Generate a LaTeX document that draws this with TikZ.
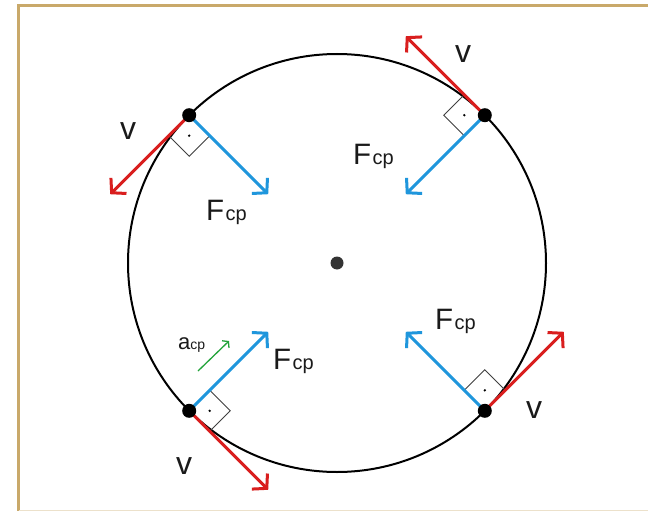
\documentclass[tikz,border=0pt]{standalone}
\usepackage{fontspec}
\setmainfont{Liberation Sans}
\usetikzlibrary{arrows.meta,calc}
\definecolor{vred}{HTML}{D91E1E}
\definecolor{fblue}{HTML}{1F96DC}
\definecolor{agreen}{HTML}{22A33A}
\definecolor{framecol}{HTML}{C9A96A}
\definecolor{txt}{HTML}{1A1A1A}
\newcommand\myFcp{{\fontsize{29.5}{29.5}\selectfont F}\kern1.5pt{\fontsize{20}{20}\selectfont cp}}
\newcommand\myacp{{\fontsize{22}{22}\selectfont a}{\fontsize{14}{14}\selectfont cp}}
\begin{document}
\begin{tikzpicture}[x=1pt,y=-1pt,
  vec/.style={line width=3pt,-{Straight Barb[length=10pt,width=22pt]}},
  vvec/.style={vec,vred},
  fvec/.style={vec,fblue},
  rsq/.style={draw=black!75,line width=0.9pt},
  bigdot/.style={circle,fill=black,inner sep=0pt,minimum size=14pt},
  smalldot/.style={circle,fill=black,inner sep=0pt,minimum size=2.6pt},
  vlab/.style={text=txt,inner sep=0pt,font=\fontsize{32}{32}\selectfont},
  flab/.style={text=txt,inner sep=0pt,anchor=base west}]
\useasboundingbox (0,0) rectangle (648,511);
\fill[white] (0,0) rectangle (648,511);
\draw[framecol,line width=2.5pt] (18.5,511) -- (18.5,5.5) -- (648,5.5);
\draw[framecol!35,line width=1pt] (18.5,510) -- (648,510);

\coordinate (O) at (337,263);
\draw[line width=2pt] (O) circle[radius=209pt];

\coordinate (P1) at ($(O)+(-147.8,-147.8)$);
\coordinate (P2) at ($(O)+(147.8,-147.8)$);
\coordinate (P3) at ($(O)+(-147.8,147.8)$);
\coordinate (P4) at ($(O)+(147.8,147.8)$);

\coordinate (V1) at ($(P1)+(-79,79)$);
\coordinate (F1) at ($(P1)+(79,79)$);
\coordinate (V2) at ($(P2)+(-79,-79)$);
\coordinate (F2) at ($(P2)+(-79,79)$);
\coordinate (V3) at ($(P3)+(79,79)$);
\coordinate (F3) at ($(P3)+(79,-79)$);
\coordinate (V4) at ($(P4)+(79,-79)$);
\coordinate (F4) at ($(P4)+(-79,-79)$);

% right-angle marks
\draw[rsq] ($(P1)+(-20.5,20.5)$) -- ($(P1)+(0,41)$) -- ($(P1)+(20.5,20.5)$);
\node[smalldot] (s1) at ($(P1)+(0,20.5)$) {};
\draw[rsq] ($(P2)+(-20.5,-20.5)$) -- ($(P2)+(-41,0)$) -- ($(P2)+(-20.5,20.5)$);
\node[smalldot] (s2) at ($(P2)+(-20.5,0)$) {};
\draw[rsq] ($(P3)+(20.5,20.5)$) -- ($(P3)+(41,0)$) -- ($(P3)+(20.5,-20.5)$);
\node[smalldot] (s3) at ($(P3)+(20.5,0)$) {};
\draw[rsq] ($(P4)+(20.5,-20.5)$) -- ($(P4)+(0,-41)$) -- ($(P4)+(-20.5,-20.5)$);
\node[smalldot] (s4) at ($(P4)+(0,-20.5)$) {};

% vectors
\draw[vvec] (P1) -- (V1);
\draw[fvec] (P1) -- (F1);
\draw[vvec] (P2) -- (V2);
\draw[fvec] (P2) -- (F2);
\draw[vvec] (P3) -- (V3);
\draw[fvec] (P3) -- (F3);
\draw[vvec] (P4) -- (V4);
\draw[fvec] (P4) -- (F4);

% dots
\node[bigdot] (d1) at (P1) {};
\node[bigdot] (d2) at (P2) {};
\node[bigdot] (d3) at (P3) {};
\node[bigdot] (d4) at (P4) {};
\node[bigdot,fill=black!80,minimum size=13pt] (dc) at (O) {};

% acceleration
\coordinate (A0) at (198,371);
\coordinate (A1) at (229,341);
\draw[agreen,line width=1.3pt,-{Straight Barb[length=4pt,width=10pt]}] (A0) -- (A1);
\node[flab] (la) at (178,349) {\myacp};

% labels
\node[vlab] (lv1) at (128,131) {v};
\node[vlab] (lv2) at (463,54) {v};
\node[vlab] (lv3) at (184,466) {v};
\node[vlab] (lv4) at (534,410) {v};
\node[flab] (lf1) at (206,220) {\myFcp};
\node[flab] (lf2) at (353,164) {\myFcp};
\node[flab] (lf3) at (273,369) {\myFcp};
\node[flab] (lf4) at (435,329) {\myFcp};
\end{tikzpicture}
\end{document}
